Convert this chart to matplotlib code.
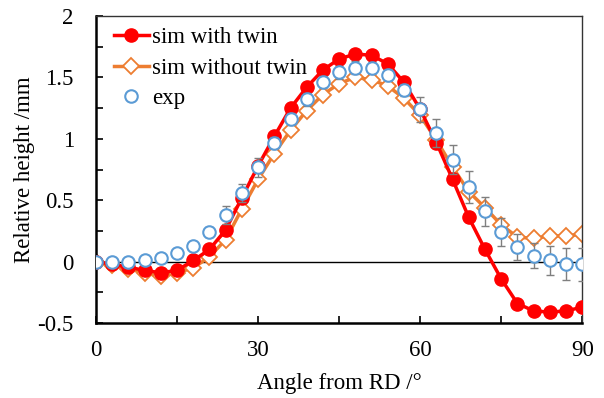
import numpy as np
import matplotlib.pyplot as plt
from matplotlib.ticker import MultipleLocator

# angle from RD (deg)
angle = np.arange(0, 91, 3)

sim_twin = [0.00, -0.02, -0.045, -0.07, -0.09, -0.07, 0.01, 0.10, 0.26, 0.52,
            0.78, 1.02, 1.25, 1.42, 1.56, 1.65, 1.69, 1.68, 1.61, 1.46,
            1.24, 0.97, 0.67, 0.36, 0.10, -0.14, -0.34, -0.40, -0.41, -0.40, -0.37]

sim_no_twin = [0.00, -0.03, -0.06, -0.09, -0.12, -0.09, -0.05, 0.04, 0.18, 0.43,
               0.67, 0.88, 1.07, 1.23, 1.36, 1.45, 1.50, 1.48, 1.43, 1.33,
               1.19, 0.99, 0.77, 0.57, 0.44, 0.30, 0.20, 0.19, 0.21, 0.21, 0.225]

exp = [0.00, 0.00, 0.00, 0.01, 0.03, 0.07, 0.13, 0.245, 0.38, 0.56,
       0.77, 0.965, 1.16, 1.32, 1.46, 1.54, 1.58, 1.575, 1.52, 1.40,
       1.24, 1.05, 0.83, 0.61, 0.41, 0.24, 0.12, 0.05, 0.01, -0.02, -0.02]

exp_err = [0.02, 0.02, 0.02, 0.02, 0.02, 0.02, 0.03, 0.04, 0.07, 0.075,
           0.077, 0.05, 0.05, 0.05, 0.05, 0.05, 0.05, 0.05, 0.05, 0.05,
           0.10, 0.115, 0.12, 0.13, 0.12, 0.115, 0.105, 0.105, 0.12, 0.13, 0.135]

yticks = [-0.5, 0, 0.5, 1, 1.5, 2]
ytick_labels = ['-0.5', '0', '0.5', '1', '1.5', '2']

plt.rcParams['font.family'] = ['Liberation Serif', 'DejaVu Serif']

fig = plt.figure(figsize=(6.04, 3.98), dpi=100)
ax = fig.add_axes([0.159, 0.188, 0.805, 0.772])

ax.axhline(0, color='black', lw=1.0, zorder=1)

ax.plot(angle, sim_no_twin, color='#ED7D31', lw=2.5, marker='D', markersize=8.5,
        markerfacecolor='white', markeredgecolor='#ED7D31', markeredgewidth=1.3,
        label='sim without twin', zorder=2)
ax.plot(angle, sim_twin, color='#FF0000', lw=2.5, marker='o', markersize=9.5,
        label='sim with twin', zorder=3)
ax.errorbar(angle, exp, yerr=exp_err, fmt='none', ecolor='#7F7F7F', elinewidth=1,
            capsize=3, capthick=1, zorder=3.5)
ax.plot(angle, exp, linestyle='none', marker='o', markersize=9,
        markerfacecolor='white', markeredgecolor='#5B9BD5', markeredgewidth=1.5,
        label='exp', zorder=4)

ax.set_xlim(0, 90)
ax.set_ylim(-0.5, 2)
ax.xaxis.set_major_locator(MultipleLocator(30))
ax.xaxis.set_minor_locator(MultipleLocator(15))
ax.set_yticks(yticks)
ax.set_yticklabels(ytick_labels)
ax.yaxis.set_minor_locator(MultipleLocator(0.25))
ax.tick_params(which='both', direction='in', length=5, width=1.2, labelsize=16.5)
ax.tick_params(axis='y', pad=16)
ax.tick_params(axis='x', pad=12)

for s in ['left', 'bottom']:
    ax.spines[s].set_linewidth(1.8)
for s in ['top', 'right']:
    ax.spines[s].set_linewidth(1.0)
    ax.spines[s].set_color('#333333')

ax.set_xlabel('Angle from RD /°', fontsize=16.5, labelpad=9)
ax.set_ylabel('Relative height /mm', fontsize=16.5, labelpad=2)

h, l = ax.get_legend_handles_labels()
order = [1, 0, 2]
ax.legend([h[i] for i in order], [l[i] for i in order], loc='upper left',
          bbox_to_anchor=(-0.005, 1.03), frameon=False, fontsize=16.5,
          handlelength=1.5, handletextpad=0.15, labelspacing=0.4, borderaxespad=0.5)

fig.savefig('out.png', dpi=100)
